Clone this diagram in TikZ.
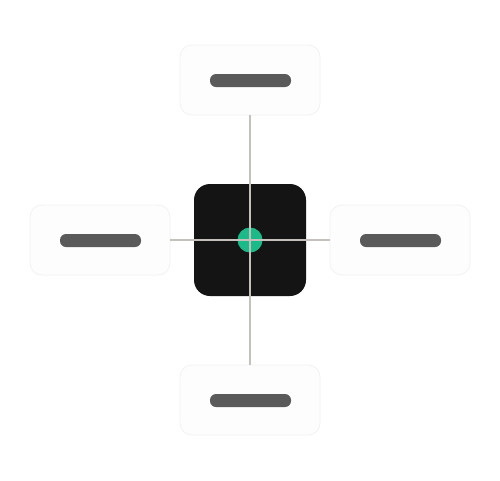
\documentclass[tikz,border=0pt]{standalone}
\usetikzlibrary{positioning}
\definecolor{boxfill}{HTML}{FDFDFD}
\definecolor{boxline}{HTML}{F2F2F2}
\definecolor{barfill}{HTML}{5A5A5A}
\definecolor{hubfill}{HTML}{141414}
\definecolor{dotfill}{HTML}{1CBA88}
\definecolor{wire}{HTML}{C4C0BC}
\begin{document}
\begin{tikzpicture}[x=1pt,y=-1pt,
  card/.style={draw=boxline,line width=0.8pt,fill=boxfill,rounded corners=12pt,minimum width=140pt,minimum height=70pt,inner sep=0pt},
  bar/.style={fill=barfill,rounded corners=6pt,minimum width=81pt,minimum height=13pt,inner sep=0pt},
  hub/.style={fill=hubfill,rounded corners=16pt,minimum width=112pt,minimum height=112pt,inner sep=0pt},
  dot/.style={circle,fill=dotfill,minimum size=25pt,inner sep=0pt},
  link/.style={draw=wire,line width=1.5pt}]
\useasboundingbox (0,0) rectangle (500,480);
\fill[white] (0,0) rectangle (500,480);
\node[card] (top) at (250,80) {};
\node[bar] (topbar) at (250.5,80.5) {};
\node[card] (left) at (100,240) {};
\node[bar] (leftbar) at (100.5,240.5) {};
\node[card] (right) at (400,240) {};
\node[bar] (rightbar) at (400.5,240.5) {};
\node[card] (bottom) at (250,400) {};
\node[bar] (bottombar) at (250.5,400.5) {};
\node[hub] (hub) at (250,240) {};
\node[dot] (dot) at (250,240) {};
\coordinate (c) at (250,240);
\draw[link] (top.south) -- (c);
\draw[link] (c) -- (bottom.north);
\draw[link] (left.east) -- (c);
\draw[link] (c) -- (right.west);
\end{tikzpicture}
\end{document}
